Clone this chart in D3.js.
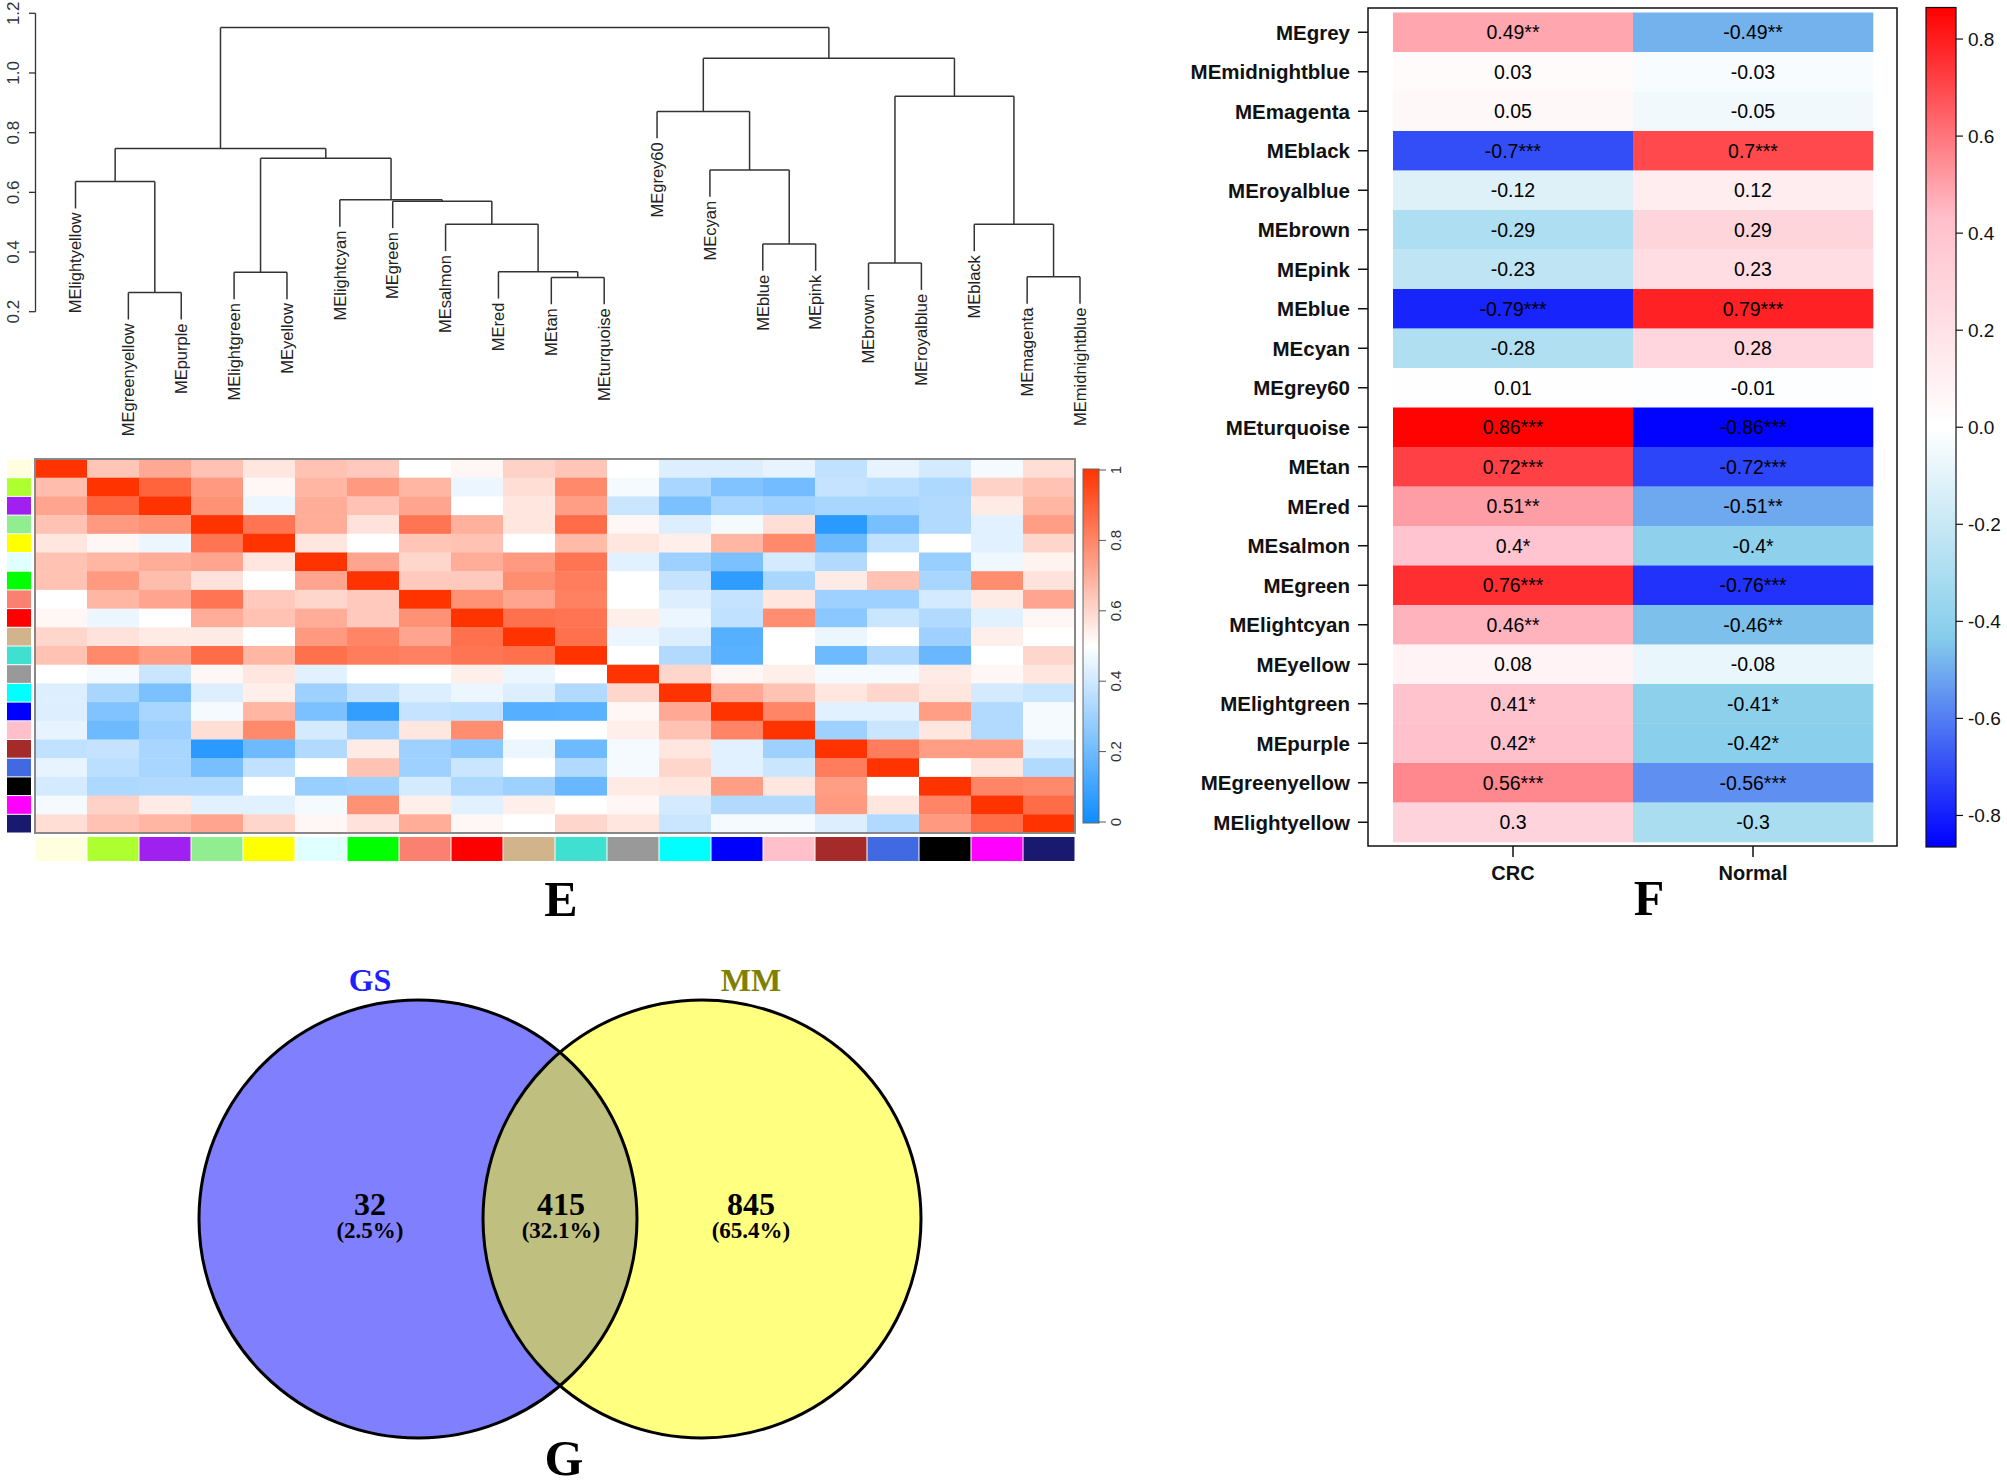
<!DOCTYPE html>
<html>
<head>
<meta charset="utf-8">
<script src="https://cdn.jsdelivr.net/npm/d3@7"></script>
<style>
  body { margin: 0; background: #fff; }
  svg { display: block; }
</style>
</head>
<body>
<div id="chart"></div>
<script>
// ---- data ----
const modules = ["MElightyellow", "MEgreenyellow", "MEpurple", "MElightgreen", "MEyellow",
    "MElightcyan", "MEgreen", "MEsalmon", "MEred", "MEtan", "MEturquoise", "MEgrey60",
    "MEcyan", "MEblue", "MEpink", "MEbrown", "MEroyalblue", "MEblack", "MEmagenta", "MEmidnightblue"];
const moduleColors = ["#FFFFE0", "#ADFF2F", "#A020F0", "#90EE90", "#FFFF00", "#E0FFFF", "#00FF00",
    "#FA8072", "#FF0000", "#D2B48C", "#40E0D0", "#999999", "#00FFFF", "#0000FF", "#FFC0CB",
    "#A52A2A", "#4169E1", "#000000", "#FF00FF", "#191970"];

// hclust-style merges: negative = leaf (1-based), positive = earlier merge
const dendroMerges = [
    [-2, -3, 0.264], [-10, -11, 0.315], [-19, -20, 0.317], [-4, -5, 0.332], [-9, 2, 0.334],
    [-16, -17, 0.363], [-14, -15, 0.427], [-8, 5, 0.493], [-18, 3, 0.493], [-7, 8, 0.570],
    [-6, 10, 0.575], [-1, 1, 0.636], [-13, 7, 0.675], [4, 11, 0.714], [12, 14, 0.747],
    [-12, 13, 0.871], [6, 9, 0.922], [16, 17, 1.049], [15, 18, 1.152]
];
const dendroTicks = [0.2, 0.4, 0.6, 0.8, 1.0, 1.2];

// eigengene adjacency (rows/cols in module order)
const meAdjacency = [
    [1.00, 0.64, 0.71, 0.65, 0.56, 0.65, 0.63, 0.50, 0.52, 0.61, 0.64, 0.50, 0.43, 0.43, 0.45, 0.37, 0.45, 0.41, 0.48, 0.58],
    [0.66, 1.00, 0.88, 0.75, 0.52, 0.68, 0.75, 0.68, 0.46, 0.58, 0.79, 0.48, 0.32, 0.24, 0.21, 0.38, 0.36, 0.33, 0.61, 0.65],
    [0.72, 0.88, 1.00, 0.77, 0.46, 0.70, 0.65, 0.72, 0.50, 0.56, 0.74, 0.39, 0.23, 0.32, 0.30, 0.32, 0.32, 0.34, 0.55, 0.68],
    [0.65, 0.75, 0.77, 1.00, 0.84, 0.70, 0.57, 0.84, 0.69, 0.56, 0.86, 0.52, 0.43, 0.48, 0.58, 0.06, 0.22, 0.34, 0.44, 0.74],
    [0.56, 0.52, 0.46, 0.84, 1.00, 0.56, 0.50, 0.64, 0.65, 0.50, 0.67, 0.56, 0.54, 0.68, 0.79, 0.20, 0.37, 0.50, 0.44, 0.60],
    [0.65, 0.68, 0.70, 0.72, 0.56, 1.00, 0.72, 0.60, 0.70, 0.75, 0.84, 0.44, 0.30, 0.23, 0.41, 0.34, 0.50, 0.29, 0.47, 0.53],
    [0.65, 0.75, 0.66, 0.57, 0.50, 0.72, 1.00, 0.63, 0.63, 0.78, 0.82, 0.50, 0.38, 0.07, 0.32, 0.55, 0.65, 0.32, 0.78, 0.57],
    [0.50, 0.68, 0.72, 0.84, 0.63, 0.60, 0.63, 1.00, 0.77, 0.72, 0.81, 0.50, 0.43, 0.38, 0.56, 0.30, 0.30, 0.41, 0.55, 0.72],
    [0.52, 0.46, 0.50, 0.70, 0.65, 0.70, 0.63, 0.77, 1.00, 0.85, 0.84, 0.54, 0.46, 0.37, 0.78, 0.26, 0.39, 0.34, 0.44, 0.52],
    [0.60, 0.57, 0.55, 0.55, 0.50, 0.75, 0.80, 0.72, 0.85, 1.00, 0.85, 0.46, 0.43, 0.15, 0.50, 0.46, 0.50, 0.30, 0.54, 0.50],
    [0.65, 0.79, 0.74, 0.86, 0.68, 0.85, 0.82, 0.81, 0.84, 0.85, 1.00, 0.50, 0.34, 0.16, 0.50, 0.20, 0.34, 0.19, 0.50, 0.60],
    [0.50, 0.48, 0.39, 0.52, 0.56, 0.44, 0.50, 0.50, 0.54, 0.46, 0.50, 1.00, 0.60, 0.52, 0.54, 0.48, 0.48, 0.55, 0.52, 0.56],
    [0.43, 0.32, 0.23, 0.43, 0.54, 0.30, 0.38, 0.43, 0.46, 0.43, 0.34, 0.60, 1.00, 0.71, 0.65, 0.56, 0.60, 0.56, 0.41, 0.39],
    [0.43, 0.24, 0.32, 0.48, 0.68, 0.23, 0.08, 0.38, 0.37, 0.15, 0.16, 0.52, 0.71, 1.00, 0.80, 0.44, 0.44, 0.74, 0.34, 0.48],
    [0.45, 0.20, 0.30, 0.58, 0.79, 0.41, 0.30, 0.56, 0.78, 0.50, 0.50, 0.54, 0.65, 0.80, 1.00, 0.30, 0.39, 0.56, 0.34, 0.48],
    [0.37, 0.38, 0.32, 0.06, 0.20, 0.34, 0.55, 0.30, 0.26, 0.46, 0.20, 0.48, 0.56, 0.44, 0.30, 1.00, 0.82, 0.74, 0.74, 0.43],
    [0.45, 0.36, 0.32, 0.22, 0.37, 0.50, 0.65, 0.30, 0.39, 0.50, 0.34, 0.48, 0.60, 0.44, 0.39, 0.82, 1.00, 0.50, 0.56, 0.34],
    [0.41, 0.33, 0.34, 0.34, 0.50, 0.29, 0.30, 0.41, 0.33, 0.30, 0.19, 0.55, 0.56, 0.74, 0.56, 0.74, 0.50, 1.00, 0.80, 0.79],
    [0.48, 0.61, 0.55, 0.44, 0.44, 0.48, 0.77, 0.54, 0.44, 0.54, 0.50, 0.52, 0.41, 0.34, 0.34, 0.75, 0.56, 0.80, 1.00, 0.86],
    [0.58, 0.65, 0.68, 0.72, 0.60, 0.52, 0.57, 0.70, 0.52, 0.50, 0.60, 0.56, 0.39, 0.48, 0.48, 0.43, 0.34, 0.75, 0.86, 1.00]
];
const adjTicks = [0, 0.2, 0.4, 0.6, 0.8, 1];

// module-trait correlations (panel F)
const traitModules = ["MEgrey", "MEmidnightblue", "MEmagenta", "MEblack", "MEroyalblue", "MEbrown",
    "MEpink", "MEblue", "MEcyan", "MEgrey60", "MEturquoise", "MEtan", "MEred", "MEsalmon",
    "MEgreen", "MElightcyan", "MEyellow", "MElightgreen", "MEpurple", "MEgreenyellow", "MElightyellow"];
const traits = ["CRC", "Normal"];
const crcCor = [0.49, 0.03, 0.05, -0.7, -0.12, -0.29, -0.23, -0.79, -0.28, 0.01, 0.86, 0.72, 0.51, 0.4,
    0.76, 0.46, 0.08, 0.41, 0.42, 0.56, 0.3];
const normalCor = [-0.49, -0.03, -0.05, 0.7, 0.12, 0.29, 0.23, 0.79, 0.28, -0.01, -0.86, -0.72, -0.51, -0.4,
    -0.76, -0.46, -0.08, -0.41, -0.42, -0.56, -0.3];
const corStars = ["**", "", "", "***", "", "", "", "***", "", "", "***", "***", "**", "*",
    "***", "**", "", "*", "*", "***", ""];
const corTicks = [-0.8, -0.6, -0.4, -0.2, 0.0, 0.2, 0.4, 0.6, 0.8];

// venn (panel G)
const vennSets = ["GS", "MM"];
const vennCounts = [32, 415, 845];
const vennPercents = ["(2.5%)", "(32.1%)", "(65.4%)"];

// ---- drawing ----
const W = 2007, H = 1480;
const sans = "'Liberation Sans', Arial, Helvetica, sans-serif";
const serif = "'Liberation Serif', 'Times New Roman', serif";

const svg = d3.select("#chart").append("svg")
    .attr("width", W)
    .attr("height", H)
    .style("background", "#fff");

// ===== dendrogram =====
const dendro = svg.append("g");
const hY = d3.scaleLinear().domain([0.2, 1.2]).range([311.7, 13.3]);
const leafX = d3.scalePoint().domain(modules).range([75.5, 1080]);
const hang = 0.09;

const nodes = [];
function nodeInfo(ref) {
    if (ref < 0) return { x: leafX(modules[-ref - 1]), h: null, leaf: -ref - 1 };
    return nodes[ref - 1];
}
dendroMerges.forEach(([a, b, h]) => {
    const na = nodeInfo(a), nb = nodeInfo(b);
    nodes.push({ x: (na.x + nb.x) / 2, h, kids: [na, nb] });
});

const segs = [];
nodes.forEach(n => {
    segs.push([n.kids[0].x, hY(n.h), n.kids[1].x, hY(n.h)]);
    n.kids.forEach(k => {
        const bottom = k.h === null ? n.h - hang : k.h;
        segs.push([k.x, hY(n.h), k.x, hY(bottom)]);
        if (k.h === null) k.bottom = hY(bottom);
    });
});
const leafNodes = [];
nodes.forEach(n => n.kids.forEach(k => { if (k.h === null) leafNodes.push(k); }));

dendro.selectAll("line.seg")
    .data(segs)
    .enter()
    .append("line")
    .attr("class", "seg")
    .attr("x1", d => d[0]).attr("y1", d => d[1])
    .attr("x2", d => d[2]).attr("y2", d => d[3])
    .attr("stroke", "#333")
    .attr("stroke-width", 1.5);

dendro.selectAll("text.leaf")
    .data(leafNodes)
    .enter()
    .append("text")
    .attr("transform", d => `translate(${d.x},${d.bottom + 4}) rotate(-90)`)
    .attr("text-anchor", "end")
    .attr("dy", "0.35em")
    .attr("font-family", sans)
    .attr("font-size", 16.5)
    .attr("fill", "#222")
    .text(d => modules[d.leaf]);

// y axis of dendrogram
const dAxis = dendro.append("g");
dAxis.append("line")
    .attr("x1", 35.5).attr("x2", 35.5)
    .attr("y1", hY(0.2)).attr("y2", hY(1.2))
    .attr("stroke", "#333").attr("stroke-width", 1.3);
dAxis.selectAll("line.tick")
    .data(dendroTicks)
    .enter()
    .append("line")
    .attr("x1", 29).attr("x2", 35.5)
    .attr("y1", d => hY(d)).attr("y2", d => hY(d))
    .attr("stroke", "#333").attr("stroke-width", 1.3);
dAxis.selectAll("text")
    .data(dendroTicks)
    .enter()
    .append("text")
    .attr("transform", d => `translate(13,${hY(d)}) rotate(-90)`)
    .attr("text-anchor", "middle")
    .attr("dy", "0.35em")
    .attr("font-family", sans)
    .attr("font-size", 17)
    .attr("fill", "#333")
    .text(d => d.toFixed(1));

// ===== eigengene heatmap (E) =====
const heat = svg.append("g");
const hx = d3.scaleBand().domain(modules).range([35, 1075]);
const hy = d3.scaleBand().domain(modules).range([459, 833]);
const adjColor = d3.scaleLinear().domain([0, 0.5, 1]).range(["#0D8CFF", "#FFFFFF", "#FF3300"]);

const cells = [];
meAdjacency.forEach((row, i) => row.forEach((v, j) => cells.push({ r: modules[i], c: modules[j], v })));

heat.selectAll("rect.cell")
    .data(cells)
    .enter()
    .append("rect")
    .attr("x", d => hx(d.c))
    .attr("y", d => hy(d.r))
    .attr("width", hx.bandwidth() + 0.4)
    .attr("height", hy.bandwidth() + 0.4)
    .attr("fill", d => adjColor(d.v));

heat.append("rect")
    .attr("x", 35).attr("y", 459)
    .attr("width", 1040).attr("height", 374)
    .attr("fill", "none")
    .attr("stroke", "#888")
    .attr("stroke-width", 2);

// side and bottom module colour bars
heat.selectAll("rect.side")
    .data(modules)
    .enter()
    .append("rect")
    .attr("x", 7)
    .attr("y", d => hy(d) + 0.5)
    .attr("width", 24)
    .attr("height", hy.bandwidth() - 1)
    .attr("fill", (d, i) => moduleColors[i]);

heat.selectAll("rect.bottom")
    .data(modules)
    .enter()
    .append("rect")
    .attr("x", d => hx(d) + 0.5)
    .attr("y", 837)
    .attr("width", hx.bandwidth() - 1)
    .attr("height", 24)
    .attr("fill", (d, i) => moduleColors[i]);

// colour key for E
const defs = svg.append("defs");
const gradE = defs.append("linearGradient")
    .attr("id", "gradE")
    .attr("x1", 0).attr("y1", 1).attr("x2", 0).attr("y2", 0);
d3.range(0, 1.0001, 0.05).forEach(t => {
    gradE.append("stop").attr("offset", t).attr("stop-color", adjColor(t));
});
const keyE = d3.scaleLinear().domain([0, 1]).range([822, 470]);
heat.append("rect")
    .attr("x", 1083).attr("y", 469)
    .attr("width", 16).attr("height", 354)
    .attr("fill", "url(#gradE)")
    .attr("stroke", "#666")
    .attr("stroke-width", 1);
heat.selectAll("line.ktick")
    .data(adjTicks)
    .enter()
    .append("line")
    .attr("x1", 1099).attr("x2", 1106)
    .attr("y1", d => keyE(d)).attr("y2", d => keyE(d))
    .attr("stroke", "#555");
heat.selectAll("text.ktick")
    .data(adjTicks)
    .enter()
    .append("text")
    .attr("transform", d => `translate(1116,${keyE(d)}) rotate(-90)`)
    .attr("text-anchor", "middle")
    .attr("dy", "0.35em")
    .attr("font-family", sans)
    .attr("font-size", 15)
    .attr("fill", "#333")
    .text(d => d3.format("~g")(d));

// ===== module-trait heatmap (F) =====
const fig = svg.append("g");
const fx = d3.scaleBand().domain(traits).range([1393, 1873]);
const fy = d3.scaleBand().domain(traitModules).range([12.5, 842]);
const corColor = d3.scaleLinear()
    .domain([-0.865, -0.43, 0, 0.43, 0.865])
    .range(["#0000FF", "#87CEEB", "#FFFFFF", "#FFC0CB", "#FF0000"]);

const fCells = [];
traitModules.forEach((m, i) => {
    fCells.push({ m, t: "CRC", v: crcCor[i], s: corStars[i] });
    fCells.push({ m, t: "Normal", v: normalCor[i], s: corStars[i] });
});

fig.selectAll("rect.fcell")
    .data(fCells)
    .enter()
    .append("rect")
    .attr("x", d => fx(d.t))
    .attr("y", d => fy(d.m))
    .attr("width", fx.bandwidth() + 0.3)
    .attr("height", fy.bandwidth() + 0.3)
    .attr("fill", d => corColor(d.v));

fig.selectAll("text.fval")
    .data(fCells)
    .enter()
    .append("text")
    .attr("x", d => fx(d.t) + fx.bandwidth() / 2)
    .attr("y", d => fy(d.m) + fy.bandwidth() / 2)
    .attr("dy", "0.36em")
    .attr("text-anchor", "middle")
    .attr("font-family", sans)
    .attr("font-size", 19.5)
    .attr("fill", "#000")
    .text(d => String(d.v) + d.s);

fig.append("rect")
    .attr("x", 1368).attr("y", 8)
    .attr("width", 529).attr("height", 838)
    .attr("fill", "none")
    .attr("stroke", "#111")
    .attr("stroke-width", 1.5);

fig.selectAll("line.ftick")
    .data(traitModules)
    .enter()
    .append("line")
    .attr("x1", 1358).attr("x2", 1368)
    .attr("y1", d => fy(d) + fy.bandwidth() / 2)
    .attr("y2", d => fy(d) + fy.bandwidth() / 2)
    .attr("stroke", "#111").attr("stroke-width", 1.5);

fig.selectAll("text.flab")
    .data(traitModules)
    .enter()
    .append("text")
    .attr("x", 1350)
    .attr("y", d => fy(d) + fy.bandwidth() / 2)
    .attr("dy", "0.36em")
    .attr("text-anchor", "end")
    .attr("font-family", sans)
    .attr("font-weight", "bold")
    .attr("font-size", 20.5)
    .attr("fill", "#111")
    .text(d => d);

fig.selectAll("line.xtick")
    .data(traits)
    .enter()
    .append("line")
    .attr("x1", d => fx(d) + fx.bandwidth() / 2)
    .attr("x2", d => fx(d) + fx.bandwidth() / 2)
    .attr("y1", 846).attr("y2", 857)
    .attr("stroke", "#111").attr("stroke-width", 1.5);

fig.selectAll("text.xlab")
    .data(traits)
    .enter()
    .append("text")
    .attr("x", d => fx(d) + fx.bandwidth() / 2)
    .attr("y", 880)
    .attr("text-anchor", "middle")
    .attr("font-family", sans)
    .attr("font-weight", "bold")
    .attr("font-size", 20)
    .attr("fill", "#111")
    .text(d => d);

// colour key for F
const gradF = defs.append("linearGradient")
    .attr("id", "gradF")
    .attr("x1", 0).attr("y1", 1).attr("x2", 0).attr("y2", 0);
d3.range(0, 1.0001, 0.025).forEach(t => {
    gradF.append("stop").attr("offset", t).attr("stop-color", corColor(-0.865 + t * 1.73));
});
const keyF = d3.scaleLinear().domain([-0.865, 0.865]).range([847, 7.5]);
fig.append("rect")
    .attr("x", 1926).attr("y", 7.5)
    .attr("width", 30).attr("height", 839.5)
    .attr("fill", "url(#gradF)")
    .attr("stroke", "#111")
    .attr("stroke-width", 1.2);
fig.selectAll("line.ctick")
    .data(corTicks)
    .enter()
    .append("line")
    .attr("x1", 1956).attr("x2", 1963)
    .attr("y1", d => keyF(d)).attr("y2", d => keyF(d))
    .attr("stroke", "#111").attr("stroke-width", 1.2);
fig.selectAll("text.ctick")
    .data(corTicks)
    .enter()
    .append("text")
    .attr("x", 1968)
    .attr("y", d => keyF(d))
    .attr("dy", "0.36em")
    .attr("font-family", sans)
    .attr("font-size", 19)
    .attr("fill", "#111")
    .text(d => d.toFixed(1));

// ===== venn (G) =====
const venn = svg.append("g");
const vx = d3.scaleOrdinal().domain(vennSets).range([418, 702]);
const vcy = 1219, vrx = 219, vry = 219;

defs.append("clipPath").attr("id", "clipGS")
    .append("ellipse")
    .attr("cx", vx("GS")).attr("cy", vcy).attr("rx", vrx).attr("ry", vry);

venn.append("ellipse")
    .attr("cx", vx("GS")).attr("cy", vcy).attr("rx", vrx).attr("ry", vry)
    .attr("fill", "#8080FF");
venn.append("ellipse")
    .attr("cx", vx("MM")).attr("cy", vcy).attr("rx", vrx).attr("ry", vry)
    .attr("fill", "#FFFF80");
venn.append("ellipse")
    .attr("cx", vx("MM")).attr("cy", vcy).attr("rx", vrx).attr("ry", vry)
    .attr("clip-path", "url(#clipGS)")
    .attr("fill", "#BFBF80");
venn.selectAll("ellipse.outline")
    .data(vennSets)
    .enter()
    .append("ellipse")
    .attr("cx", d => vx(d)).attr("cy", vcy).attr("rx", vrx).attr("ry", vry)
    .attr("fill", "none")
    .attr("stroke", "#000")
    .attr("stroke-width", 3);

venn.selectAll("text.setname")
    .data(vennSets)
    .enter()
    .append("text")
    .attr("x", d => d === "GS" ? 370 : 751)
    .attr("y", 991)
    .attr("text-anchor", "middle")
    .attr("font-family", serif)
    .attr("font-weight", "bold")
    .attr("font-size", 32)
    .attr("fill", d => d === "GS" ? "#2020FF" : "#808000")
    .text(d => d);

const regionX = [370, 561, 751];
venn.selectAll("text.count")
    .data(vennCounts)
    .enter()
    .append("text")
    .attr("x", (d, i) => regionX[i])
    .attr("y", 1215)
    .attr("text-anchor", "middle")
    .attr("font-family", serif)
    .attr("font-weight", "bold")
    .attr("font-size", 32)
    .attr("fill", "#000")
    .text(d => d);
venn.selectAll("text.pct")
    .data(vennPercents)
    .enter()
    .append("text")
    .attr("x", (d, i) => regionX[i])
    .attr("y", 1238)
    .attr("text-anchor", "middle")
    .attr("font-family", serif)
    .attr("font-weight", "bold")
    .attr("font-size", 23)
    .attr("fill", "#000")
    .text(d => d);

// panel letters
const letters = [["E", 561, 916], ["F", 1649, 915], ["G", 564, 1475]];
svg.selectAll("text.panel")
    .data(letters)
    .enter()
    .append("text")
    .attr("x", d => d[1])
    .attr("y", d => d[2])
    .attr("text-anchor", "middle")
    .attr("font-family", serif)
    .attr("font-weight", "bold")
    .attr("font-size", 50)
    .attr("fill", "#000")
    .text(d => d[0]);
</script>
</body>
</html>
